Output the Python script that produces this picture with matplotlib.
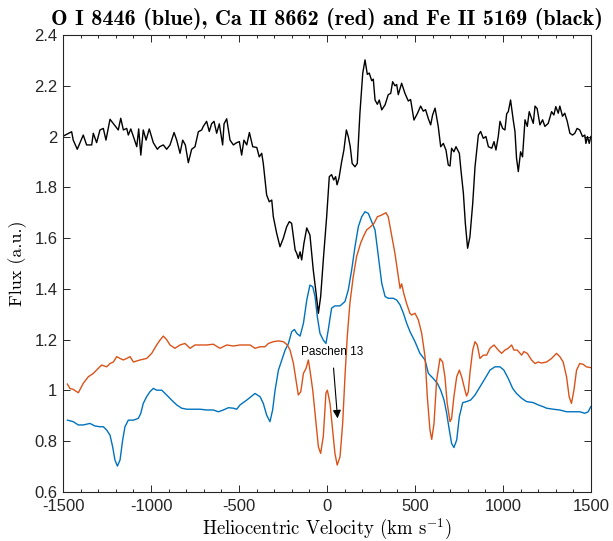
import matplotlib

matplotlib.use("Agg")
import matplotlib.pyplot as plt
from matplotlib.ticker import MultipleLocator

# ---- DATOS ----

# Fe II 5169 (negro)
v_fe = [-1498, -1451, -1442, -1419, -1385, -1366, -1337, -1328, -1309, -1290,
        -1271, -1256, -1233, -1186, -1172, -1157, -1138, -1129, -1115, -1100,
        -1081, -1070, -1058, -1044, -1028, -1010, -987, -964, -951, -930,
        -911, -892, -869, -854, -835, -820, -805, -788, -769, -750,
        -731, -712, -703, -684, -669, -656, -642, -627, -612, -593,
        -585, -570, -551, -532, -513, -498, -485, -472, -456, -441,
        -422, -399, -385, -371, -362, -343, -328, -314, -305, -286,
        -267, -248, -229, -214, -201, -181, -172, -163, -153, -144,
        -131, -115, -97, -78, -62, -49, -36, -21, -2, 13,
        26, 38, 49, 57, 68, 83, 96, 110, 121, 132,
        143, 159, 172, 187, 203, 216, 229, 240, 254, 263,
        273, 286, 297, 311, 330, 348, 362, 373, 386, 396,
        405, 424, 443, 462, 475, 494, 513, 532, 547, 560,
        576, 589, 600, 614, 632, 646, 661, 676, 689, 699,
        708, 721, 733, 752, 761, 775, 786, 799, 812, 828,
        841, 860, 873, 888, 903, 917, 936, 949, 960, 973,
        983, 998, 1011, 1021, 1030, 1043, 1058, 1068, 1077, 1087,
        1100, 1111, 1125, 1138, 1149, 1162, 1172, 1182, 1194, 1210,
        1225, 1238, 1257, 1276, 1289, 1300, 1314, 1323, 1338, 1351,
        1365, 1380, 1395, 1408, 1421, 1436, 1452, 1465, 1471, 1480,
        1490, 1499]
f_fe = [2.002, 2.019, 1.986, 1.95, 2.006, 1.967, 1.967, 2.013, 1.976, 2.026,
        2.032, 1.986, 2.068, 2.026, 2.072, 2.026, 2.032, 2.006, 2.03, 2.0,
        1.96, 2.03, 1.927, 2.026, 1.986, 2.03, 1.976, 1.95, 1.96, 1.967,
        1.95, 1.967, 2.016, 1.986, 1.934, 1.986, 1.967, 1.897, 1.95, 1.96,
        2.019, 2.026, 2.04, 2.06, 2.02, 2.05, 2.06, 2.013, 2.05, 1.967,
        2.05, 2.07, 1.986, 1.967, 1.976, 1.98, 1.927, 1.986, 1.967, 2.016,
        1.96, 1.957, 1.92, 1.934, 1.894, 1.77, 1.743, 1.75, 1.684, 1.619,
        1.566, 1.60, 1.645, 1.665, 1.658, 1.553, 1.54, 1.52, 1.546, 1.514,
        1.58, 1.64, 1.612, 1.474, 1.383, 1.304, 1.37, 1.514, 1.684, 1.842,
        1.85, 1.829, 1.842, 1.81, 1.836, 1.90, 1.947, 2.026, 2.0, 1.96,
        1.894, 1.881, 1.894, 2.092, 2.249, 2.302, 2.245, 2.25, 2.22, 2.226,
        2.144, 2.127, 2.144, 2.105, 2.125, 2.165, 2.17, 2.216, 2.2, 2.205,
        2.165, 2.21, 2.17, 2.14, 2.146, 2.065, 2.09, 2.12, 2.10, 2.106,
        2.07, 2.046, 2.085, 2.112, 2.04, 1.96, 1.973, 1.947, 1.888, 1.884,
        1.954, 1.94, 1.96, 1.934, 1.868, 1.776, 1.658, 1.56, 1.605, 1.737,
        1.881, 2.006, 2.02, 1.993, 2.0, 1.96, 1.954, 1.98, 1.947, 2.0,
        2.06, 2.032, 2.026, 2.09, 2.098, 2.144, 2.066, 2.02, 1.914, 1.862,
        1.94, 1.92, 2.066, 2.04, 2.098, 2.072, 2.052, 2.12, 2.11, 2.046,
        2.066, 2.04, 2.052, 2.098, 2.085, 2.118, 2.092, 2.12, 2.08, 2.092,
        2.06, 2.013, 2.006, 2.013, 2.032, 2.026, 2.0, 2.006, 1.973, 2.0,
        1.973, 2.0]

# Ca II 8662 (rojo)
v_ca = [-1475, -1461, -1442, -1413, -1385, -1356, -1328, -1300, -1281, -1252,
        -1233, -1214, -1195, -1176, -1157, -1138, -1119, -1100, -1062, -1025,
        -996, -968, -949, -930, -911, -892, -864, -835, -807, -778,
        -750, -722, -684, -646, -608, -570, -532, -494, -437, -409,
        -380, -352, -333, -305, -276, -248, -225, -210, -191, -176,
        -163, -149, -134, -119, -106, -97, -81, -62, -49, -36,
        -21, -6, 2, 17, 32, 45, 58, 74, 89, 102,
        115, 130, 149, 168, 191, 206, 225, 248, 267, 286,
        311, 335, 348, 367, 386, 405, 415, 424, 437, 452,
        471, 481, 500, 519, 538, 557, 570, 585, 595, 608,
        623, 642, 657, 670, 683, 699, 708, 721, 737, 752,
        765, 784, 793, 803, 812, 828, 841, 854, 869, 888,
        907, 926, 949, 973, 992, 1011, 1030, 1049, 1062, 1081,
        1106, 1119, 1138, 1162, 1182, 1200, 1219, 1248, 1276, 1304,
        1323, 1342, 1361, 1376, 1389, 1403, 1418, 1436, 1455, 1474,
        1497]
f_ca = [1.025, 1.008, 1.004, 0.991, 1.028, 1.054, 1.067, 1.087, 1.10, 1.093,
        1.106, 1.112, 1.133, 1.126, 1.12, 1.126, 1.133, 1.112, 1.12, 1.126,
        1.146, 1.179, 1.198, 1.214, 1.20, 1.179, 1.166, 1.179, 1.185, 1.166,
        1.179, 1.179, 1.179, 1.182, 1.166, 1.179, 1.175, 1.179, 1.179, 1.166,
        1.172, 1.172, 1.185, 1.192, 1.195, 1.192, 1.179, 1.159, 1.107, 1.041,
        0.982, 0.995, 1.067, 1.087, 1.12, 1.08, 1.001, 0.87, 0.778, 0.752,
        0.82, 0.99, 1.001, 0.949, 0.844, 0.752, 0.706, 0.739, 0.87, 1.054,
        1.212, 1.343, 1.448, 1.527, 1.58, 1.605, 1.632, 1.645, 1.658, 1.684,
        1.691, 1.70, 1.684, 1.612, 1.54, 1.448, 1.402, 1.42, 1.38, 1.343,
        1.304, 1.297, 1.304, 1.278, 1.225, 1.133, 0.975, 0.844, 0.807, 0.87,
        1.041, 1.126, 1.112, 1.054, 0.949, 0.877, 0.89, 0.975, 1.054, 1.08,
        1.054, 1.001, 0.978, 0.995, 1.067, 1.159, 1.192, 1.179, 1.126, 1.139,
        1.139, 1.166, 1.179, 1.159, 1.146, 1.159, 1.166, 1.179, 1.159, 1.159,
        1.139, 1.153, 1.146, 1.12, 1.106, 1.112, 1.108, 1.112, 1.126, 1.146,
        1.133, 1.112, 1.054, 0.975, 0.949, 1.001, 1.08, 1.106, 1.103, 1.093,
        1.09]

# O I 8446 (azul)
v_o = [-1475, -1442, -1413, -1385, -1347, -1319, -1290, -1271, -1252, -1233,
       -1218, -1205, -1191, -1176, -1161, -1148, -1129, -1100, -1072, -1058,
       -1044, -1025, -1006, -987, -968, -939, -911, -883, -854, -826,
       -797, -760, -722, -684, -646, -617, -589, -560, -532, -513,
       -494, -456, -409, -380, -362, -343, -324, -309, -295, -276,
       -257, -238, -219, -201, -185, -172, -153, -134, -115, -97,
       -81, -68, -55, -40, -21, -6, 7, 26, 45, 74,
       102, 121, 140, 159, 178, 197, 216, 235, 254, 273,
       292, 311, 330, 348, 377, 396, 415, 434, 453, 472,
       500, 528, 557, 576, 604, 627, 646, 665, 680, 695,
       708, 721, 737, 752, 771, 793, 816, 841, 869, 898,
       926, 954, 983, 1005, 1030, 1055, 1077, 1106, 1134, 1172,
       1200, 1228, 1248, 1285, 1323, 1361, 1398, 1436, 1465, 1484,
       1499]
f_o = [0.883, 0.877, 0.864, 0.864, 0.87, 0.86, 0.857, 0.857, 0.844, 0.824,
       0.778, 0.726, 0.702, 0.726, 0.805, 0.857, 0.883, 0.883, 0.89, 0.91,
       0.949, 0.975, 0.995, 1.008, 1.001, 1.001, 0.982, 0.962, 0.943, 0.93,
       0.926, 0.926, 0.926, 0.923, 0.923, 0.916, 0.923, 0.932, 0.93, 0.926,
       0.943, 0.962, 0.988, 0.975, 0.949, 0.903, 0.877, 0.923, 1.001, 1.08,
       1.12, 1.159, 1.185, 1.231, 1.24, 1.225, 1.214, 1.264, 1.356, 1.415,
       1.408, 1.37, 1.29, 1.225, 1.198, 1.185, 1.238, 1.324, 1.333, 1.333,
       1.35, 1.396, 1.474, 1.566, 1.645, 1.684, 1.704, 1.697, 1.665, 1.632,
       1.527, 1.422, 1.37, 1.363, 1.363, 1.356, 1.337, 1.304, 1.264, 1.231,
       1.192, 1.146, 1.12, 1.067, 1.047, 1.028, 1.001, 0.962, 0.91, 0.844,
       0.791, 0.775, 0.805, 0.897, 0.952, 0.956, 0.962, 0.982, 1.014, 1.047,
       1.08, 1.093, 1.093, 1.08, 1.047, 1.008, 0.988, 0.969, 0.956, 0.952,
       0.943, 0.936, 0.93, 0.926, 0.923, 0.916, 0.916, 0.916, 0.91, 0.916,
       0.936]

x_ticks = [-1500, -1000, -500, 0, 500, 1000, 1500]
y_ticks = [0.6, 0.8, 1.0, 1.2, 1.4, 1.6, 1.8, 2.0, 2.2, 2.4]
y_tick_labels = ["0.6", "0.8", "1", "1.2", "1.4", "1.6", "1.8", "2", "2.2", "2.4"]

# ---- GRAFICO ----

plt.rcParams["mathtext.fontset"] = "cm"
plt.rcParams["axes.unicode_minus"] = False

eje_color = "#262626"

fig = plt.figure(figsize=(6.13, 5.41), dpi=100)
ax = fig.add_axes([0.1028, 0.0906, 0.8613, 0.8447])

ax.plot(v_o, f_o, color="#0072BD", lw=1.0)
ax.plot(v_ca, f_ca, color="#D95319", lw=1.0)
ax.plot(v_fe, f_fe, color="black", lw=1.0)

ax.set_xlim(-1500, 1500)
ax.set_ylim(0.6, 2.4)
ax.set_xticks(x_ticks)
ax.set_xticklabels([str(t) for t in x_ticks])
ax.set_yticks(y_ticks)
ax.set_yticklabels(y_tick_labels)
ax.xaxis.set_minor_locator(MultipleLocator(100))

ax.tick_params(which="both", direction="in", top=True, right=True,
               colors=eje_color, labelsize=12, width=0.7)
ax.tick_params(which="major", length=5)
ax.tick_params(which="minor", length=2.5)
ax.tick_params(axis="x", pad=5)
ax.tick_params(axis="y", pad=4)
for lab in ax.get_xticklabels() + ax.get_yticklabels():
    lab.set_fontfamily("Liberation Sans")
for sp in ax.spines.values():
    sp.set_color(eje_color)
    sp.set_linewidth(0.8)

# Etiqueta con flecha para Paschen 13
ax.annotate("Paschen 13", xy=(60, 0.89), xytext=(30, 1.15),
            fontsize=8.5, family="Liberation Sans", ha="center", va="center",
            arrowprops=dict(arrowstyle="-|>", color="black", lw=0.8,
                            mutation_scale=12, shrinkA=5, shrinkB=0))

ax.set_title("O I 8446 (blue), Ca II 8662 (red) and Fe II 5169 (black)",
             family="cmb10", fontsize=16, pad=7)
ax.set_xlabel("Heliocentric Velocity (km s$^{-1}$)", family="cmr10",
              fontsize=13.5, labelpad=2)
ax.set_ylabel("Flux (a.u.)", family="cmr10", fontsize=13, labelpad=5)

fig.savefig("out.png", dpi=100)
